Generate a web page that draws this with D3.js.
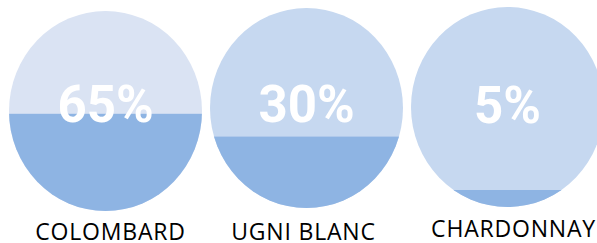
<!DOCTYPE html>
<html>
<head>
<meta charset="utf-8">
<style>
  html, body { margin: 0; padding: 0; background: #fff; }
  svg { display: block; }
  .pct { font-family: Roboto, "Liberation Sans", sans-serif; font-weight: 700; fill: #fff; text-anchor: middle; }
  .lbl { font-family: "Open Sans", sans-serif; fill: #000; text-anchor: middle; }
</style>
</head>
<body>
<svg id="chart"></svg>
<script src="https://cdn.jsdelivr.net/npm/d3@7/dist/d3.min.js"></script>
<script>
// data
var grapes = ["COLOMBARD", "UGNI BLANC", "CHARDONNAY"];
var shares = [65, 30, 5];            // printed percentages
var fillLevels = [0.486, 0.357, 0.085]; // height of the darker fill, fraction of circle

// layout / style
var width = 597, height = 243;
var rx = 96.5, ry = 100;
var centerY = [111, 108, 107];
var labelShift = [5, -3, 6];
var labelBase = [239.5, 239.5, 237];
var bgColors = ["#dae3f3", "#c6d8f0", "#c6d8f0"];
var fillColor = "#8eb4e3";

var svg = d3.select("#chart").attr("width", width).attr("height", height);

var x = d3.scaleBand().domain(grapes).range([5, 608]).padding(0);

var items = grapes.map(function(g, i) {
    return { name: g, share: shares[i], level: fillLevels[i], i: i };
});

var defs = svg.append("defs");
defs.selectAll("clipPath")
    .data(items)
    .enter().append("clipPath")
    .attr("id", function(d) { return "clip" + d.i; })
    .append("ellipse")
    .attr("cx", function(d) { return x(d.name) + x.bandwidth() / 2; })
    .attr("cy", function(d) { return centerY[d.i]; })
    .attr("rx", rx)
    .attr("ry", ry);

var g = svg.selectAll("g.cup")
    .data(items)
    .enter().append("g")
    .attr("class", "cup");

g.append("ellipse")
    .attr("cx", function(d) { return x(d.name) + x.bandwidth() / 2; })
    .attr("cy", function(d) { return centerY[d.i]; })
    .attr("rx", rx)
    .attr("ry", ry)
    .attr("fill", function(d) { return bgColors[d.i]; });

g.append("rect")
    .attr("clip-path", function(d) { return "url(#clip" + d.i + ")"; })
    .attr("x", function(d) { return x(d.name) + x.bandwidth() / 2 - rx; })
    .attr("width", rx * 2)
    .attr("y", function(d) {
        var y = d3.scaleLinear().domain([0, 1]).range([centerY[d.i] + ry, centerY[d.i] - ry]);
        return y(d.level);
    })
    .attr("height", function(d) { return d.level * 2 * ry + 1; })
    .attr("fill", fillColor);

g.append("text")
    .attr("class", "pct")
    .attr("x", function(d) { return x(d.name) + x.bandwidth() / 2; })
    .attr("y", function(d) { return d.i == 2 ? 123 : 122; })
    .style("font-size", "51px")
    .text(function(d) { return d.share + "%"; });

g.append("text")
    .attr("class", "lbl")
    .attr("x", function(d) { return x(d.name) + x.bandwidth() / 2 + labelShift[d.i]; })
    .attr("y", function(d) { return labelBase[d.i]; })
    .style("font-size", "23px")
    .style("letter-spacing", "0.8px")
    .text(function(d) { return d.name; });
</script>
</body>
</html>
